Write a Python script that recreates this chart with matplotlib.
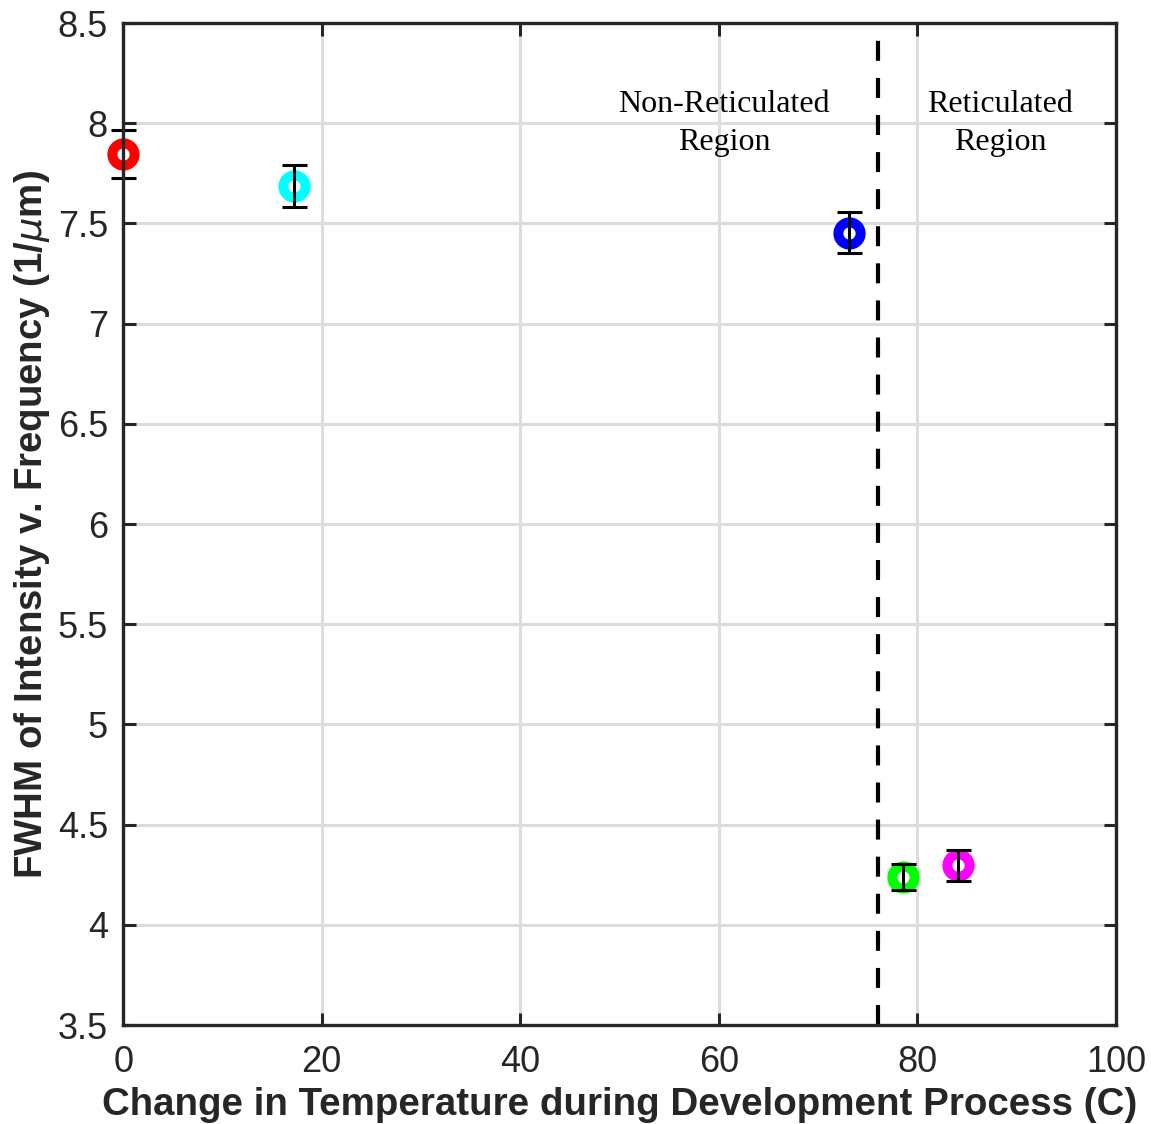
import matplotlib
matplotlib.use("Agg")
import matplotlib.pyplot as plt

# data
temp_change = [0.0, 17.2, 73.1, 78.5, 84.1]
fwhm = [7.846, 7.687, 7.452, 4.239, 4.300]
err_low = [0.12, 0.105, 0.10, 0.065, 0.08]
err_high = [0.12, 0.105, 0.105, 0.065, 0.075]
point_colors = ["#ff0000", "#00ffff", "#0000ff", "#00ff00", "#ff00ff"]

boundary_x = 76.0
region_labels = ["Non-Reticulated\nRegion", "Reticulated\nRegion"]
region_label_x = [60.5, 88.3]
region_label_y = 7.998

xticks = [0, 20, 40, 60, 80, 100]
yticks = [3.5, 4, 4.5, 5, 5.5, 6, 6.5, 7, 7.5, 8, 8.5]
ytick_labels = ["3.5", "4", "4.5", "5", "5.5", "6", "6.5", "7", "7.5", "8", "8.5"]

plt.rcParams["font.family"] = ["Liberation Sans", "DejaVu Sans"]
plt.rcParams["mathtext.fontset"] = "dejavusans"

fig = plt.figure(figsize=(11.51, 11.24), dpi=100)
ax = fig.add_axes([0.107, 0.088, 0.8626, 0.8915])

spine_col = "#262626"

for x, y, lo, hi, c in zip(temp_change, fwhm, err_low, err_high, point_colors):
    ax.plot(x, y, "o", markersize=16, markerfacecolor="white",
            markeredgecolor=c, markeredgewidth=7.2, zorder=4, clip_on=False)
    ax.errorbar(x, y, yerr=[[lo], [hi]], fmt="none", ecolor="black",
                elinewidth=2.2, capsize=9, capthick=2.2, zorder=5, clip_on=False)

ax.axvline(boundary_x, color="black", linewidth=3, linestyle=(0, (4.8, 4.1)), zorder=3)

for lbl, lx in zip(region_labels, region_label_x):
    ax.text(lx, region_label_y, lbl, ha="center", va="center",
            fontsize=23, family=["Liberation Serif", "DejaVu Serif"], linespacing=1.38, zorder=6)

ax.set_xlim(0, 100)
ax.set_ylim(3.5, 8.5)
ax.set_xticks(xticks)
ax.set_yticks(yticks)
ax.set_yticklabels(ytick_labels)

ax.grid(True, color="#dcdcdc", linewidth=2.2, zorder=0)
ax.set_axisbelow(True)

ax.tick_params(direction="in", length=9, width=2.2, color=spine_col,
               labelsize=26, labelcolor=spine_col, top=True, right=True)
ax.tick_params(axis="x", pad=14)
ax.tick_params(axis="y", pad=11)
for s in ax.spines.values():
    s.set_linewidth(2.4)
    s.set_color(spine_col)
    s.set_zorder(7)

ax.set_xlabel("Change in Temperature during Development Process (C)",
              fontsize=27.7, fontweight="bold", color=spine_col, labelpad=5.5)
ax.set_ylabel("FWHM of Intensity v. Frequency (1/$\\mu$m)",
              fontsize=27.6, fontweight="bold", color=spine_col, labelpad=4)

fig.savefig("out.png", dpi=100)
